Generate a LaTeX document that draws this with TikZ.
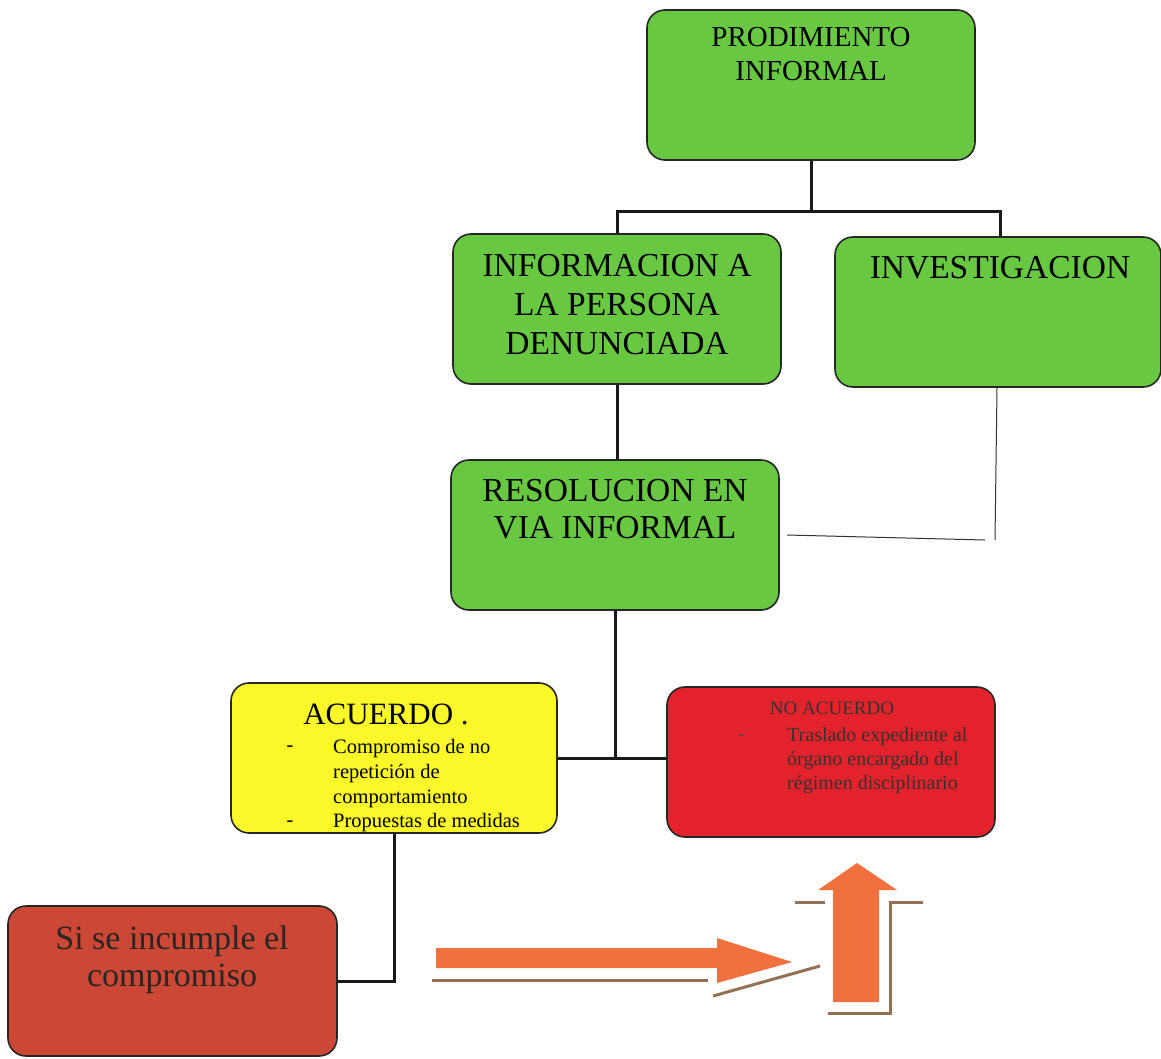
\documentclass[tikz,border=0pt]{standalone}
\usepackage{fontspec}
\setmainfont{Liberation Serif}
\definecolor{boxgreen}{RGB}{104,200,66}
\definecolor{boxyellow}{RGB}{250,248,40}
\definecolor{boxred}{RGB}{228,34,44}
\definecolor{boxbrown}{RGB}{205,72,52}
\definecolor{arroworange}{RGB}{240,112,62}
\definecolor{shadowbrown}{RGB}{150,112,82}
\begin{document}
\begin{tikzpicture}[x=1pt,y=-1pt,
  box/.style={draw=black!85,line width=1.6pt,rounded corners=18pt,minimum width=328pt,minimum height=150pt,inner sep=0pt},
  conn/.style={draw=black!90,line width=3pt},
  thin/.style={draw=black!80,line width=1pt},
  big/.style={font=\fontsize{33.5}{39}\selectfont,align=center,inner sep=0pt},
]
\useasboundingbox (0,0) rectangle (1161,1058);
% boxes
\node[box,fill=boxgreen] (prod) at (811,85) {};
\node[box,fill=boxgreen] (info) at (617,309) {};
\node[box,fill=boxgreen,minimum width=326pt] (inv) at (998,312) {};
\node[box,fill=boxgreen] (res) at (615,535) {};
\node[box,fill=boxyellow,minimum width=326pt] (acu) at (394,758) {};
\node[box,fill=boxred] (noac) at (831,762) {};
\node[box,fill=boxbrown,minimum width=329pt] (si) at (172.5,981) {};
% texts
\node[font=\fontsize{29}{34}\selectfont,align=center,inner sep=0pt,anchor=north] (tprod) at (811,27) {PRODIMIENTO\\INFORMAL};
\node[big,anchor=north] (tinfo) at (617,254) {INFORMACION A\\LA PERSONA\\DENUNCIADA};
\node[big,anchor=north] (tinv) at (1000,256) {INVESTIGACION};
\node[big,font=\fontsize{33.5}{37}\selectfont,anchor=north] (tres) at (615,479) {RESOLUCION EN\\VIA INFORMAL};
\node[font=\fontsize{31}{34}\selectfont,inner sep=0pt,anchor=north] (tacu) at (386,704) {ACUERDO .};
\node[font=\fontsize{20.5}{24.8}\selectfont,align=left,inner sep=0pt,anchor=north west] (tacu2) at (333,739) {Compromiso de no\\repetición de\\comportamiento\\Propuestas de medidas};
\node[inner sep=0pt,font=\fontsize{20.5}{24}\selectfont] (dash1) at (290,749) {-};
\node[inner sep=0pt,font=\fontsize{20.5}{24}\selectfont] (dash2) at (290,824) {-};
\node[font=\fontsize{19}{22}\selectfont,inner sep=0pt,anchor=north,text=black!80] (tnoac) at (832,702) {NO ACUERDO};
\node[font=\fontsize{20}{24}\selectfont,align=left,inner sep=0pt,anchor=north west,text=black!80] (tnoac2) at (787,727) {Traslado expediente al\\órgano encargado del\\régimen disciplinario};
\node[inner sep=0pt,font=\fontsize{20}{24}\selectfont,text=black!70] (dash3) at (742,738) {-};
\node[font=\fontsize{34}{37}\selectfont,align=center,inner sep=0pt,anchor=north,text=black!85] (tsi) at (172,926) {Si se incumple el\\compromiso};
% connectors
\draw[conn] (prod.south) -- ++(0,51) -| (info.north);
\draw[conn] (prod.south) -- ++(0,51) -| ([xshift=2pt]inv.north);
\draw[conn] (info.south) -- (info.south |- res.north);
\draw[conn] (res.south) -- (res.south |- acu.east);
\draw[conn] (acu.east) -- (noac.west |- acu.east);
\draw[conn] (acu.south) |- (si.east);
\coordinate (c1) at (995,540);
\coordinate (c2) at (787,535);
\coordinate (c3) at (985,540);
\draw[thin] ([xshift=-1pt]inv.south) -- (c1);
\draw[thin] (c2) -- (c3);
% horizontal arrow with shadow
\draw[shadowbrown,line width=3pt] (432,980) -- (708,980);
\draw[shadowbrown,line width=3pt] (713,996) -- (820,966);
\fill[arroworange] (436,948) -- (717,948) -- (717,938) -- (792,962) -- (717,983) -- (717,968) -- (436,968) -- cycle;
% vertical arrow with shadow
\draw[shadowbrown,line width=3pt] (795,902) -- (825,902);
\draw[shadowbrown,line width=3pt] (923,902) -- (890,902) -- (890,1013) -- (828,1013);
\fill[arroworange] (833,1002) -- (833,890) -- (818,890) -- (857,863) -- (897,890) -- (879,890) -- (879,1002) -- cycle;
\end{tikzpicture}
\end{document}
